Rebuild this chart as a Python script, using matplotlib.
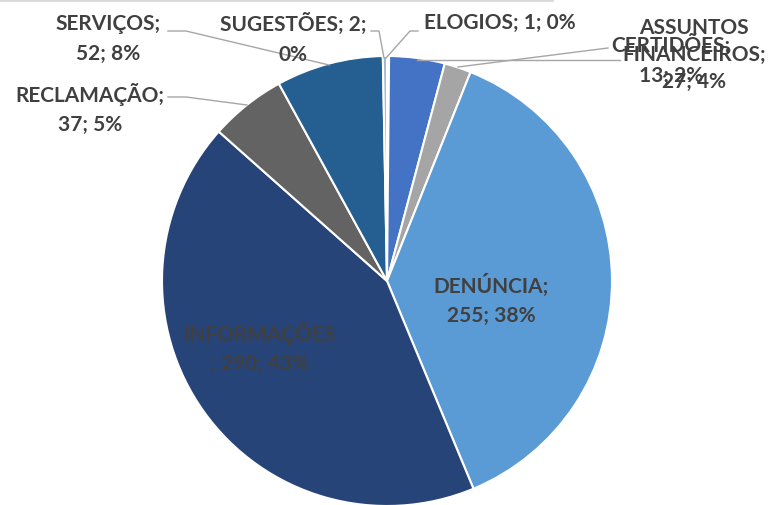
import matplotlib.pyplot as plt
from matplotlib.lines import Line2D

# Data (clockwise from 12 o'clock)
categories = ['ELOGIOS', 'ASSUNTOS FINANCEIROS', 'CERTIDÕES', 'DENÚNCIA',
              'INFORMAÇÕES', 'RECLAMAÇÃO', 'SERVIÇOS', 'SUGESTÕES']
values = [1, 27, 13, 255, 290, 37, 52, 2]
percents = ['0%', '4%', '2%', '38%', '43%', '5%', '8%', '0%']
colors = ['#A9C4E4', '#4472C4', '#A5A5A5', '#5B9BD5',
          '#264478', '#636363', '#255E91', '#9DB8DA']

# label texts as drawn in the chart
label_texts = ['ELOGIOS; 1; 0%',
               'ASSUNTOS\nFINANCEIROS;\n27; 4%',
               'CERTIDÕES;\n13; 2%',
               'DENÚNCIA;\n255; 38%',
               'INFORMAÇÕES\n; 290; 43%',
               'RECLAMAÇÃO;\n37; 5%',
               'SERVIÇOS;\n52; 8%',
               'SUGESTÕES; 2;\n0%']

W, H = 772, 506
fig = plt.figure(figsize=(W / 100, H / 100), dpi=100)
ax = fig.add_axes([0, 0, 1, 1])

cx, cy, r = 387, H - 282, 225
ax.pie(values, colors=colors, startangle=90, counterclock=False,
       center=(cx, cy), radius=r, frame=True,
       wedgeprops=dict(edgecolor='white', linewidth=1.5))
ax.set_xlim(0, W)
ax.set_ylim(0, H)
ax.set_aspect('equal')
ax.axis('off')

# label positions in pixels (x, y from top)
label_pos = {
    'ELOGIOS': (500, 23),
    'ASSUNTOS FINANCEIROS': (694, 55),
    'CERTIDÕES': (671, 60),
    'DENÚNCIA': (491, 300),
    'INFORMAÇÕES': (259, 348),
    'RECLAMAÇÃO': (90, 109),
    'SERVIÇOS': (108, 39),
    'SUGESTÕES': (293, 39),
}
leaders = {
    'ELOGIOS': [(418, 32), (410, 32), (386, 59)],
    'ASSUNTOS FINANCEIROS': [(620, 61), (417, 61)],
    'CERTIDÕES': [(608, 49), (458, 68)],
    'RECLAMAÇÃO': [(168, 98), (186, 98), (247, 106)],
    'SERVIÇOS': [(168, 32), (186, 32), (329, 66)],
    'SUGESTÕES': [(371, 32), (379, 32), (384, 59)],
}

font = dict(family=['Lato', 'DejaVu Sans'], fontweight='bold',
            fontsize=15, color='#404040')
for cat, txt in zip(categories, label_texts):
    x, y = label_pos[cat]
    ls = 1.45 if cat == 'ASSUNTOS FINANCEIROS' else 1.6
    ax.text(x, H - y, txt, ha='center', va='center', linespacing=ls, **font)
    if cat in leaders:
        pts = leaders[cat]
        ax.add_line(Line2D([p[0] for p in pts], [H - p[1] for p in pts],
                           color='#A6A6A6', lw=1.0))

# thin frame line at the top
ax.add_line(Line2D([0, 552], [H - 1, H - 1], color='#D9D9D9', lw=2))

fig.savefig('out.png', dpi=100)
